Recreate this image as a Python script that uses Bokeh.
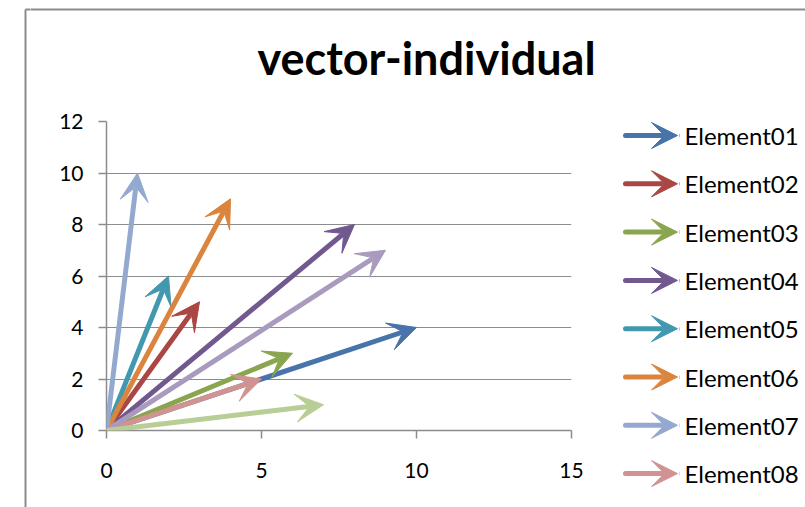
from bokeh.plotting import figure
from bokeh.layouts import column, row
from bokeh.models import Arrow, VeeHead, ColumnDataSource, FixedTicker
from bokeh.core.properties import value
from bokeh.embed import file_html
from bokeh.resources import INLINE

# ---------------- data ----------------
chart_title = "vector-individual"
names = ["Element01", "Element02", "Element03", "Element04", "Element05",
         "Element06", "Element07", "Element08", "Element09", "Element10"]
x_start = [0, 0, 0, 0, 0, 0, 0, 0, 0, 0]
y_start = [0, 0, 0, 0, 0, 0, 0, 0, 0, 0]
x_end = [10, 3, 6, 8, 2, 4, 1, 5, 9, 7]
y_end = [4, 5, 3, 8, 6, 9, 10, 2, 7, 1]
colors = ["#4674AB", "#AA4643", "#89A54E", "#71588F", "#4198AF",
          "#DB843D", "#93A9CF", "#D19392", "#A99BBD", "#B9CD96"]
x_ticks = [0, 5, 10, 15]
y_ticks = [0, 2, 4, 6, 8, 10, 12]

FONT = "Lato"
GREY = "#8C8C8C"
W, H = 805, 507
TOP_H = 105          # height of title strip
STRIP_W = 30         # left strip holding the chart border
MAIN_W = 561         # main chart figure width
LEG_W = W - STRIP_W - MAIN_W
ROW_H = H - TOP_H


def blank(w, h, xr, yr):
    f = figure(width=w, height=h, x_range=xr, y_range=yr,
               x_axis_type=None, y_axis_type=None,
               output_backend="svg", toolbar_location=None, min_border=0,
               min_border_left=0, min_border_right=0,
               min_border_top=0, min_border_bottom=0)
    f.frame_align = False
    f.outline_line_color = None
    f.grid.visible = False
    f.background_fill_color = "white"
    f.border_fill_color = "white"
    return f


# ---------------- left strip (chart border, full height) ----------------
strip = blank(STRIP_W, H, (0, STRIP_W), (H, 0))
strip.segment(x0=[25, 25], y0=[9, 9], x1=[25, STRIP_W + 5], y1=[H + 5, 9],
              line_color=GREY, line_width=2)

# ---------------- title strip (pixel coordinates) ----------------
top = blank(W - STRIP_W, TOP_H, (STRIP_W, W), (TOP_H, 0))
top.text(x=[426], y=[57], text=[chart_title], text_font=value(FONT),
         text_font_style="bold", text_font_size=value("45px"), text_color="black",
         text_align="center", text_baseline="alphabetic")
top.segment(x0=[STRIP_W - 5], y0=[9], x1=[W + 5], y1=[9],
            line_color=GREY, line_width=2)

# ---------------- main chart ----------------
p = figure(width=MAIN_W, height=ROW_H, x_range=(0, 15), y_range=(0, 12),
           output_backend="svg", toolbar_location=None,
           min_border_left=106 - STRIP_W, min_border_right=STRIP_W + MAIN_W - 571,
           min_border_top=121 - TOP_H, min_border_bottom=H - 430)
p.frame_align = False
p.outline_line_color = None
p.background_fill_color = "white"
p.border_fill_color = "white"
p.xaxis.ticker = FixedTicker(ticks=x_ticks)
p.yaxis.ticker = FixedTicker(ticks=y_ticks)
p.xgrid.visible = False
p.ygrid.grid_line_color = GREY
p.ygrid.grid_line_width = 1.2
for ax in (p.xaxis[0], p.yaxis[0]):
    ax.axis_line_color = GREY
    ax.axis_line_width = 1.5
    ax.major_tick_line_color = GREY
    ax.major_tick_line_width = 1.5
    ax.major_tick_out = 8
    ax.major_tick_in = 0
    ax.minor_tick_line_color = None
    ax.major_label_text_font = FONT
    ax.major_label_text_font_size = "21px"
    ax.major_label_text_color = "black"
p.xaxis.major_label_standoff = 24
p.yaxis.major_label_standoff = 15

for i in range(len(names)):
    src = ColumnDataSource(dict(x0=[x_start[i]], y0=[y_start[i]],
                                x1=[x_end[i]], y1=[y_end[i]]))
    c = colors[i]
    p.add_layout(Arrow(x_start="x0", y_start="y0", x_end="x1", y_end="y1",
                       source=src, line_color=c, line_width=5,
                       end=VeeHead(size=28, fill_color=c, line_color=c, line_width=1)))

# ---------------- legend (pixel coordinates) ----------------
LX0 = STRIP_W + MAIN_W
leg = blank(LEG_W, ROW_H, (LX0, W), (H, TOP_H))
row_y = [135 + i * 48.3 for i in range(len(names))]
shown = [i for i in range(len(names)) if row_y[i] + 14 < H]   # rows that fit the window
for i in shown:
    c = colors[i]
    leg.add_layout(Arrow(x_start=625, y_start=row_y[i], x_end=677, y_end=row_y[i],
                         line_color=c, line_width=5, line_cap="round",
                         end=VeeHead(size=26, fill_color=c, line_color=c, line_width=1)))
leg_src = ColumnDataSource(dict(x=[684] * len(shown), y=[row_y[i] for i in shown],
                                name=[names[i] for i in shown]))
leg.text(x="x", y="y", text="name", source=leg_src, text_font=value(FONT),
         text_font_size=value("24px"), text_color="black",
         text_align="left", text_baseline="middle")

layout = row(strip, column(top, row(p, leg)))
open("out.html", "w").write(file_html(layout, INLINE))
